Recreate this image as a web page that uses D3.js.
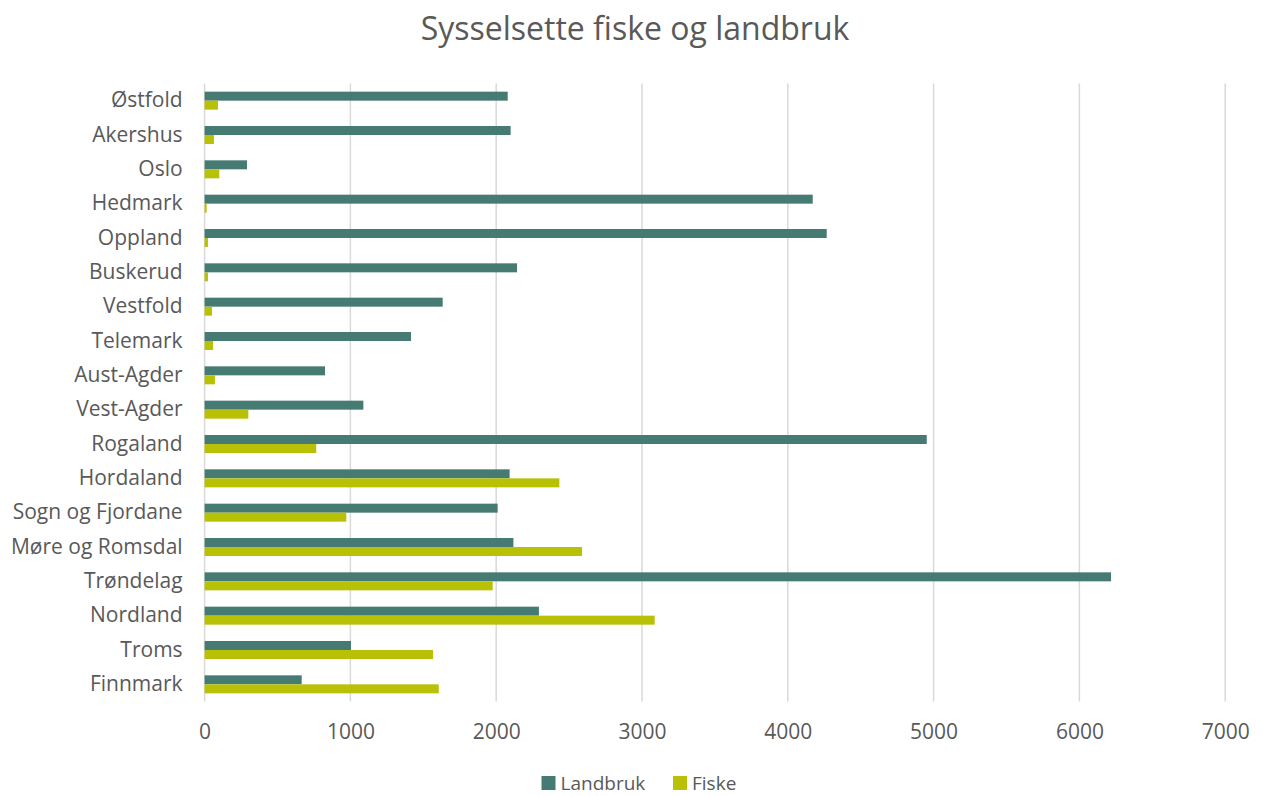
<!DOCTYPE html>
<html>
<head>
<meta charset="utf-8">
<script src="https://cdn.jsdelivr.net/npm/d3@7"></script>
<style>
  html, body { margin: 0; padding: 0; background: #fff; }
  svg { display: block; font-family: "Open Sans", "Noto Sans", sans-serif; }
</style>
</head>
<body>
<svg id="chart" width="1262" height="796"></svg>
<script>
// Employment in agriculture and fishing per county
const counties = ["Østfold", "Akershus", "Oslo", "Hedmark", "Oppland", "Buskerud", "Vestfold",
  "Telemark", "Aust-Agder", "Vest-Agder", "Rogaland", "Hordaland", "Sogn og Fjordane",
  "Møre og Romsdal", "Trøndelag", "Nordland", "Troms", "Finnmark"];
const landbruk = [2079, 2099, 291, 4171, 4267, 2143, 1633, 1416, 826, 1089, 4953, 2092, 2010, 2118, 6217, 2293, 1004, 666];
const fiske = [92, 64, 101, 14, 23, 23, 51, 58, 71, 300, 766, 2433, 972, 2589, 1976, 3087, 1567, 1606];
const xTicks = [0, 1000, 2000, 3000, 4000, 5000, 6000, 7000];
const seriesNames = ["Landbruk", "Fiske"];
const seriesColors = ["#467b73", "#b9c106"];

const svg = d3.select("#chart");
const plotLeft = 204.6, plotRight = 1225.2, plotTop = 83.5, plotBottom = 701.5;

const x = d3.scaleLinear().domain([0, 7000]).range([plotLeft, plotRight]);
const y = d3.scaleBand().domain(counties).range([plotTop, plotBottom]).padding(0);
const barH = 9;

// title
svg.append("text")
  .attr("x", 635).attr("y", 40)
  .attr("text-anchor", "middle")
  .attr("font-size", 32)
  .attr("fill", "#595959")
  .text("Sysselsette fiske og landbruk");

// vertical gridlines
svg.append("g")
  .selectAll("line")
  .data(xTicks)
  .join("line")
  .attr("x1", d => x(d)).attr("x2", d => x(d))
  .attr("y1", plotTop).attr("y2", plotBottom)
  .attr("stroke", "#d9d9d9")
  .attr("stroke-width", 1.5);

// bars
const data = counties.map((c, i) => ({ c, vals: [landbruk[i], fiske[i]] }));
const groups = svg.append("g").selectAll("g")
  .data(data)
  .join("g")
  .attr("transform", d => `translate(0,${y(d.c) + y.bandwidth() / 2})`);

groups.selectAll("rect")
  .data(d => d.vals.map((v, k) => ({ v, k })))
  .join("rect")
  .attr("x", x(0))
  .attr("y", d => d.k === 0 ? -barH : 0)
  .attr("width", d => x(d.v) - x(0))
  .attr("height", barH)
  .attr("fill", d => seriesColors[d.k]);

// category axis
const yAxis = svg.append("g")
  .attr("transform", `translate(${plotLeft},0)`)
  .call(d3.axisLeft(y).tickSize(0).tickPadding(22));
yAxis.select(".domain").remove();
yAxis.selectAll("text")
  .attr("font-size", 21)
  .attr("font-family", "'Open Sans', sans-serif")
  .attr("fill", "#595959");

// value axis
const xAxis = svg.append("g")
  .attr("transform", `translate(0,${plotBottom})`)
  .call(d3.axisBottom(x).tickValues(xTicks).tickSize(0).tickPadding(23).tickFormat(d3.format("d")));
xAxis.select(".domain").remove();
xAxis.selectAll("text")
  .attr("font-size", 21)
  .attr("font-family", "'Open Sans', sans-serif")
  .attr("fill", "#595959");

// legend
const legend = svg.append("g");
const legendItems = [
  { name: seriesNames[0], color: seriesColors[0], x: 541.5 },
  { name: seriesNames[1], color: seriesColors[1], x: 673 }
];
legendItems.forEach(it => {
  legend.append("rect")
    .attr("x", it.x).attr("y", 776)
    .attr("width", 14).attr("height", 14)
    .attr("fill", it.color);
  legend.append("text")
    .attr("x", it.x + 19).attr("y", 783)
    .attr("dominant-baseline", "central")
    .attr("font-size", 19)
    .attr("fill", "#595959")
    .text(it.name);
});
</script>
</body>
</html>
